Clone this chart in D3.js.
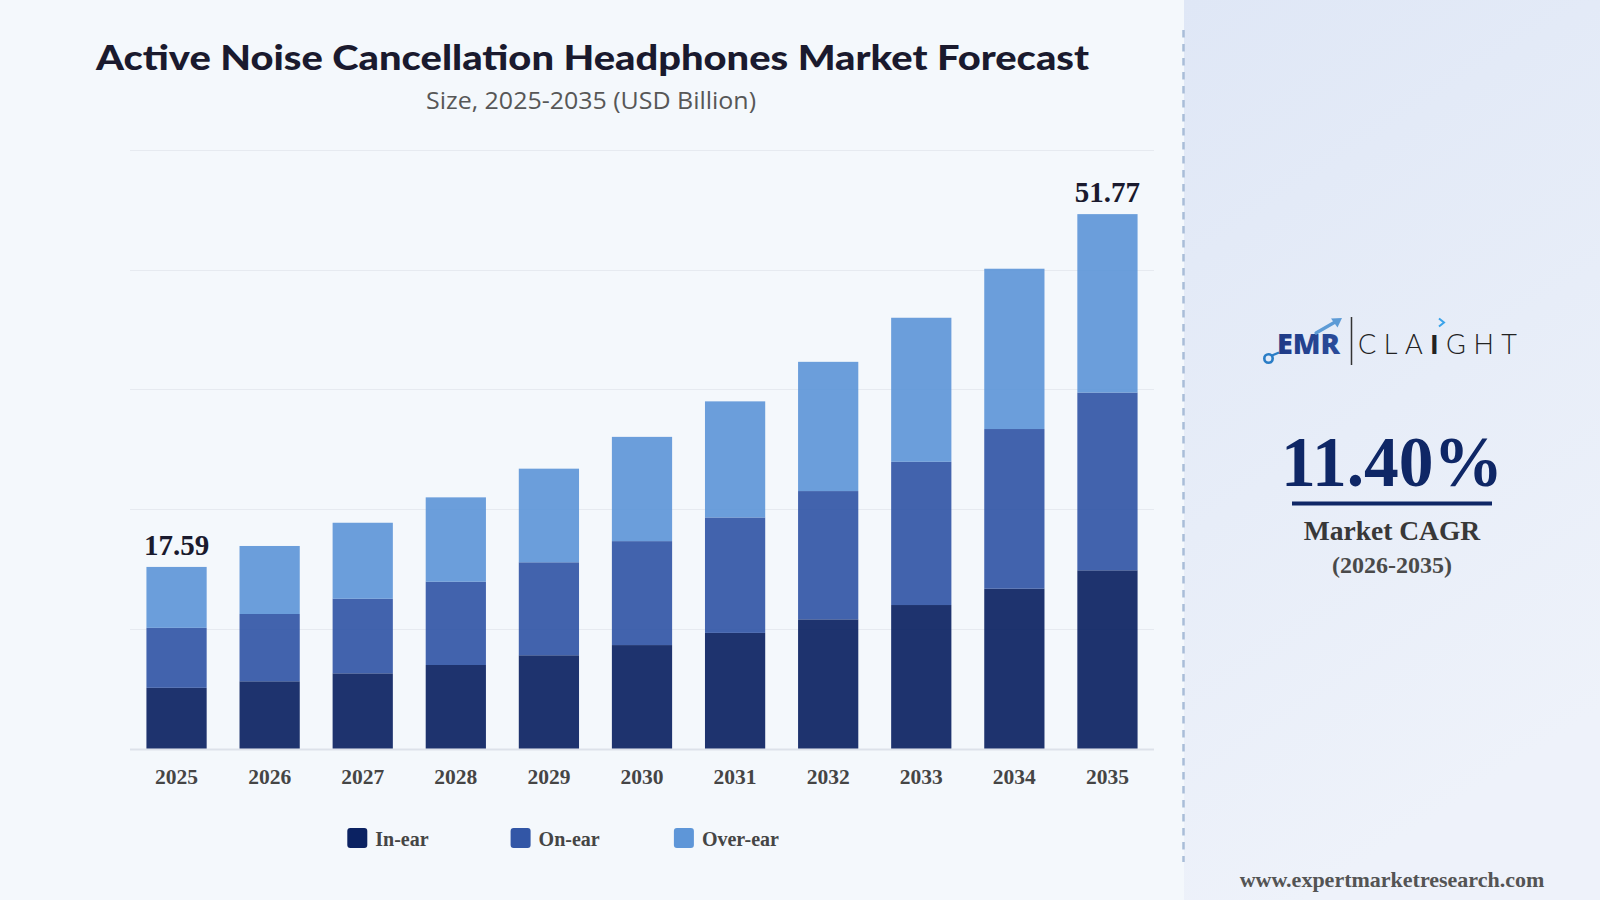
<!DOCTYPE html>
<html>
<head>
<meta charset="utf-8">
<script src="https://cdn.jsdelivr.net/npm/d3@7"></script>
<style>
  html, body { margin: 0; padding: 0; background: #f4f8fc; }
  svg { display: block; }
</style>
</head>
<body>
<div id="chart"></div>
<script>
// values (USD Billion)
var years = ["2025", "2026", "2027", "2028", "2029", "2030", "2031", "2032", "2033", "2034", "2035"];
var inEar = [5.88, 6.51, 7.28, 8.09, 9.03, 10.02, 11.20, 12.51, 13.90, 15.48, 17.26];
var onEar = [5.81, 6.52, 7.23, 8.07, 9.01, 10.07, 11.18, 12.43, 13.88, 15.47, 17.22];
var overEar = [5.90, 6.59, 7.36, 8.17, 9.07, 10.10, 11.25, 12.52, 13.95, 15.53, 17.29];
var seriesNames = ["In-ear", "On-ear", "Over-ear"];
var seriesColors = ["#0b2262", "#3256a6", "#5e96d8"];
var labelledYears = ["2025", "2035"];
var cagr = "11.40%";
var cagrPeriod = "(2026-2035)";

var width = 1600, height = 900;
var serif = "'Liberation Serif', 'Times New Roman', serif";

var svg = d3.select("#chart").append("svg")
  .attr("width", width)
  .attr("height", height);

var defs = svg.append("defs");
var grad = defs.append("linearGradient")
  .attr("id", "panel-grad")
  .attr("x1", 0).attr("y1", 0).attr("x2", 0.3).attr("y2", 1);
grad.append("stop").attr("offset", "0%").attr("stop-color", "#dfe7f6");
grad.append("stop").attr("offset", "55%").attr("stop-color", "#e7edf8");
grad.append("stop").attr("offset", "100%").attr("stop-color", "#eef2fa");

// backgrounds
svg.append("rect").attr("width", width).attr("height", height).attr("fill", "#f4f8fc");
svg.append("rect")
  .attr("x", 1184).attr("y", 0)
  .attr("width", width - 1184).attr("height", height)
  .attr("fill", "url(#panel-grad)");
svg.append("line")
  .attr("x1", 1183.5).attr("x2", 1183.5)
  .attr("y1", 30).attr("y2", 862)
  .attr("stroke", "#a9bdd8")
  .attr("stroke-width", 2.5)
  .attr("stroke-dasharray", "7.5 6.5");

// titles
svg.append("text")
  .attr("x", 592.5).attr("y", 69.5)
  .attr("text-anchor", "middle")
  .attr("textLength", 993)
  .attr("lengthAdjust", "spacingAndGlyphs")
  .style("font-family", "Lato, 'Open Sans', sans-serif")
  .style("font-weight", 900)
  .style("font-size", "34.5px")
  .style("fill", "#1a1a2e")
  .text("Active Noise Cancellation Headphones Market Forecast");

svg.append("text")
  .attr("x", 591).attr("y", 109)
  .attr("text-anchor", "middle")
  .attr("textLength", 330)
  .attr("lengthAdjust", "spacingAndGlyphs")
  .style("font-family", "'Open Sans', 'Noto Sans', sans-serif")
  .style("font-size", "23px")
  .style("fill", "#575757")
  .text("Size, 2025-2035 (USD Billion)");

// stacked data
var rows = years.map(function(y, i) {
  return { year: y, "In-ear": inEar[i], "On-ear": onEar[i], "Over-ear": overEar[i] };
});
var totals = rows.map(function(r) { return r["In-ear"] + r["On-ear"] + r["Over-ear"]; });
var yMax = d3.max(totals) * 1.12;

var x = d3.scaleBand()
  .domain(years)
  .range([130, 1154])
  .paddingInner(0.353)
  .paddingOuter(0.1765);

var y = d3.scaleLinear()
  .domain([0, yMax])
  .range([748.5, 150]);

var color = d3.scaleOrdinal()
  .domain(seriesNames)
  .range(seriesColors);

// grid
var grid = svg.append("g");
grid.selectAll("line")
  .data(d3.range(6).map(function(i) { return yMax * i / 5; }))
  .enter().append("line")
  .attr("x1", 130).attr("x2", 1154)
  .attr("y1", function(d) { return Math.round(y(d)) + 0.5; })
  .attr("y2", function(d) { return Math.round(y(d)) + 0.5; })
  .attr("stroke", function(d, i) { return i == 0 ? "#dde2ea" : "#e6eaf0"; })
  .attr("stroke-width", function(d, i) { return i == 0 ? 2 : 1; });

var stack = d3.stack().keys(seriesNames);
var layers = stack(rows);

svg.append("g")
  .selectAll("g")
  .data(layers)
  .enter().append("g")
  .attr("fill", function(d) { return color(d.key); })
  .selectAll("rect")
  .data(function(d) { return d; })
  .enter().append("rect")
  .attr("x", function(d) { return x(d.data.year); })
  .attr("width", x.bandwidth())
  .attr("y", function(d) { return y(d[1]); })
  .attr("height", function(d) { return y(d[0]) - y(d[1]); })
  .attr("fill-opacity", 0.92);

// total labels on first and last bar
svg.append("g")
  .selectAll("text")
  .data(rows.filter(function(r) { return labelledYears.indexOf(r.year) > -1; }))
  .enter().append("text")
  .attr("x", function(d) { return x(d.year) + x.bandwidth() / 2; })
  .attr("y", function(d) { return y(d["In-ear"] + d["On-ear"] + d["Over-ear"]) - 12; })
  .attr("text-anchor", "middle")
  .style("font-family", serif)
  .style("font-weight", "bold")
  .style("font-size", "29px")
  .style("fill", "#1a1a2e")
  .text(function(d) { return d3.format(".2f")(d["In-ear"] + d["On-ear"] + d["Over-ear"]); });

// x axis
var xAxis = svg.append("g")
  .attr("transform", "translate(0,748.5)")
  .call(d3.axisBottom(x).tickSize(0).tickPadding(0));
xAxis.select(".domain").remove();
xAxis.selectAll("text")
  .attr("y", 35.5)
  .attr("dy", null)
  .style("font-family", serif)
  .style("font-weight", "bold")
  .style("font-size", "21.5px")
  .style("fill", "#454545");

// legend
var legend = svg.append("g")
  .selectAll("g")
  .data(seriesNames)
  .enter().append("g")
  .attr("transform", function(d, i) { return "translate(" + (347.3 + i * 163.3) + ",828)"; });
legend.append("rect")
  .attr("width", 20).attr("height", 20)
  .attr("rx", 3)
  .attr("fill", function(d) { return color(d); });
legend.append("text")
  .attr("x", 28).attr("y", 18)
  .style("font-family", serif)
  .style("font-weight", "bold")
  .style("font-size", "20px")
  .style("fill", "#454545")
  .text(function(d) { return d; });

// right panel: logo
var logo = svg.append("g");
var emrGrad = defs.append("linearGradient").attr("id", "emr-grad")
  .attr("x1", 0).attr("y1", 0).attr("x2", 1).attr("y2", 0);
emrGrad.append("stop").attr("offset", "0%").attr("stop-color", "#1e3a86");
emrGrad.append("stop").attr("offset", "100%").attr("stop-color", "#2b4c9b");

logo.append("circle")
  .attr("cx", 1268.5).attr("cy", 358.5).attr("r", 4.2)
  .attr("fill", "none")
  .attr("stroke", "#2a7dc6")
  .attr("stroke-width", 2.6);
logo.append("line")
  .attr("x1", 1272).attr("y1", 355.5).attr("x2", 1279).attr("y2", 352.5)
  .attr("stroke", "#2a7dc6").attr("stroke-width", 2.4);
logo.append("text")
  .attr("x", 1277).attr("y", 353.5)
  .attr("textLength", 63)
  .attr("lengthAdjust", "spacingAndGlyphs")
  .style("font-family", "'Open Sans', Roboto, sans-serif")
  .style("font-weight", 800)
  .style("font-size", "28px")
  .style("fill", "url(#emr-grad)")
  .text("EMR");
logo.append("line")
  .attr("x1", 1316).attr("y1", 333).attr("x2", 1336).attr("y2", 321.5)
  .attr("stroke", "#5d9bd6").attr("stroke-width", 3.2)
  .attr("stroke-linecap", "round");
logo.append("path")
  .attr("d", "M1342,318 L1331,318.5 L1337.5,327.5 Z")
  .attr("fill", "#5d9bd6");
logo.append("line")
  .attr("x1", 1351.5).attr("x2", 1351.5)
  .attr("y1", 317).attr("y2", 365)
  .attr("stroke", "#333").attr("stroke-width", 1.5);
var clai = logo.append("text")
  .attr("x", 1358).attr("y", 353.5)
  .attr("textLength", 159)
  .attr("lengthAdjust", "spacing")
  .style("font-family", "Lato, 'Open Sans', sans-serif")
  .style("font-weight", 300)
  .style("font-size", "27px")
  .style("fill", "#222");
clai.append("tspan").text("CLA");
clai.append("tspan").style("font-weight", 900).text("I");
clai.append("tspan").text("GHT");
logo.append("path")
  .attr("d", "M1439,318.5 L1444,322.5 L1439,326.5")
  .attr("fill", "none")
  .attr("stroke", "#3aa3ea").attr("stroke-width", 2);

// right panel: CAGR
svg.append("text")
  .attr("x", 1392).attr("y", 486)
  .attr("text-anchor", "middle")
  .attr("textLength", 222)
  .attr("lengthAdjust", "spacingAndGlyphs")
  .style("font-family", serif)
  .style("font-weight", "bold")
  .style("font-size", "72px")
  .style("fill", "#0f2766")
  .text(cagr);
svg.append("rect")
  .attr("x", 1292).attr("y", 501.5)
  .attr("width", 200).attr("height", 4)
  .attr("fill", "#0f2766");
svg.append("text")
  .attr("x", 1392).attr("y", 540)
  .attr("text-anchor", "middle")
  .style("font-family", serif)
  .style("font-weight", "bold")
  .style("font-size", "27.5px")
  .style("fill", "#383838")
  .text("Market CAGR");
svg.append("text")
  .attr("x", 1392).attr("y", 573)
  .attr("text-anchor", "middle")
  .style("font-family", serif)
  .style("font-weight", "bold")
  .style("font-size", "24px")
  .style("fill", "#4a4a4a")
  .text(cagrPeriod);

svg.append("text")
  .attr("x", 1392).attr("y", 887)
  .attr("text-anchor", "middle")
  .style("font-family", serif)
  .style("font-weight", "bold")
  .style("font-size", "22px")
  .style("fill", "#545454")
  .text("www.expertmarketresearch.com");
</script>
</body>
</html>
